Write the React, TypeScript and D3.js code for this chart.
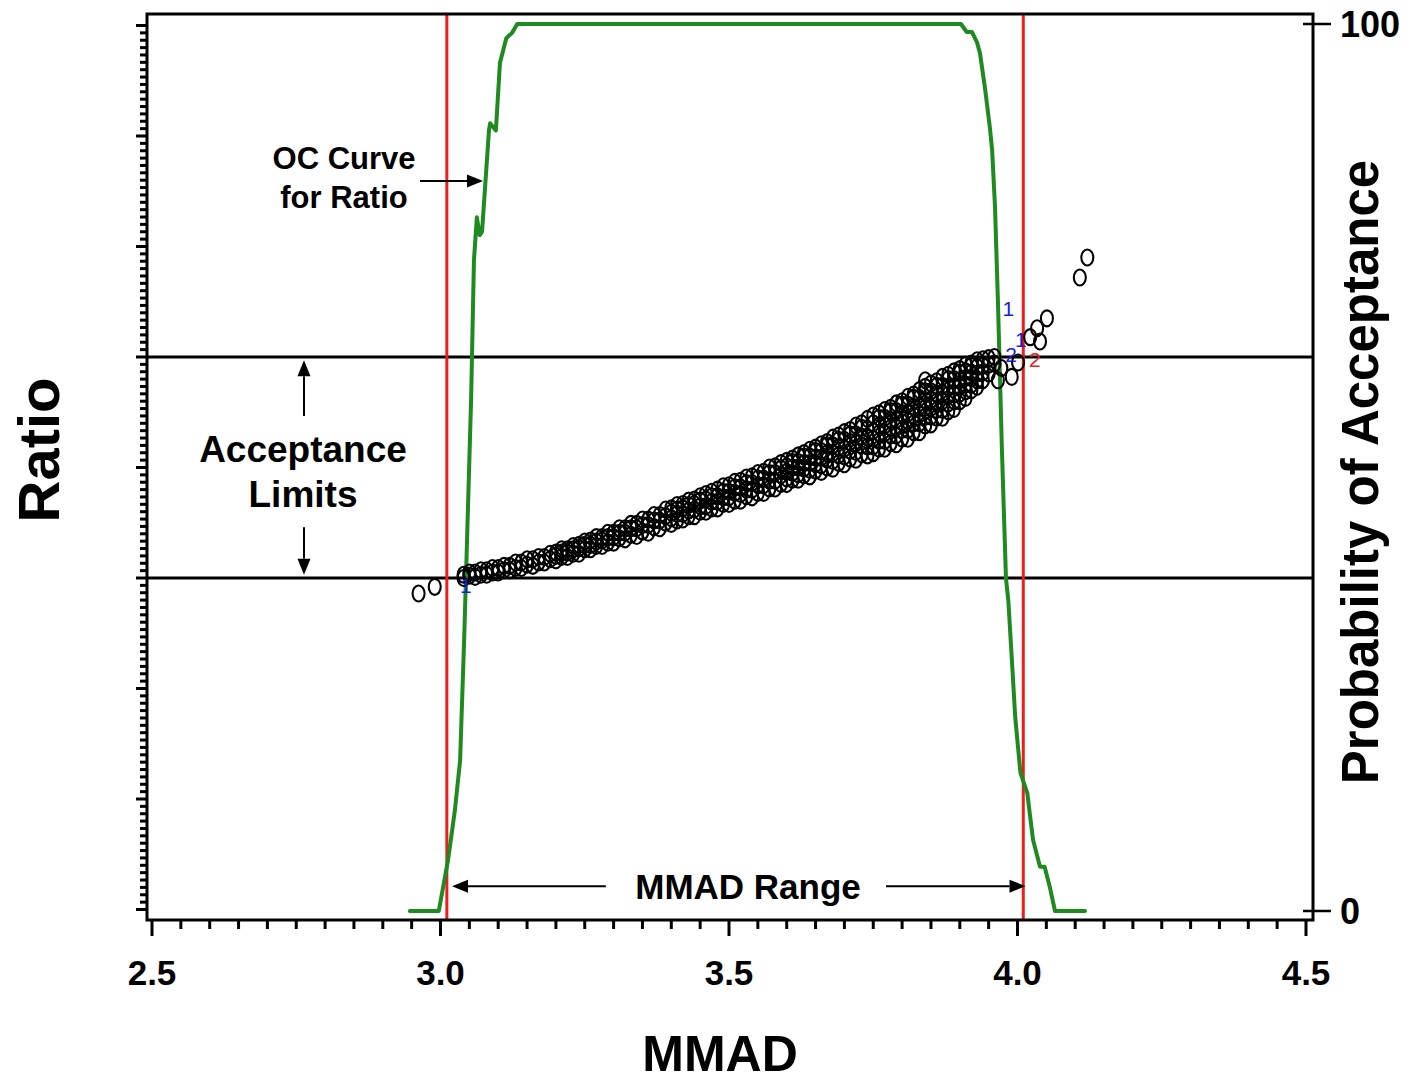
import React from "react";
import * as d3 from "d3";

const W = 1410;
const H = 1083;

// ---------- axes ----------
const xMajorTicks = [2.5, 3.0, 3.5, 4.0, 4.5];
const xTickLabels = ["2.5", "3.0", "3.5", "4.0", "4.5"];
const probTicks = [0, 100];
const probTickLabels = ["0", "100"];

// ---------- reference lines ----------
const acceptanceLimits = [0.8, 1.0];
const mmadRangeLimits = [3.011, 4.01];

// ---------- OC curve (probability of acceptance, %) ----------
const ocMMAD = [2.947, 2.997, 3.013, 3.025, 3.034, 3.041, 3.046, 3.053, 3.058, 3.063, 3.068, 3.072, 3.084, 3.086, 3.096, 3.103, 3.114, 3.124, 3.133, 3.902, 3.912, 3.921, 3.93, 3.935, 3.944, 3.952, 3.956, 3.961, 3.966, 3.973, 3.98, 3.984, 3.991, 3.996, 4.005, 4.017, 4.022, 4.027, 4.039, 4.047, 4.056, 4.065, 4.117];
const ocProb = [0, 0, 5.7, 11.4, 17.0, 30.6, 41.8, 57.6, 73.4, 78.2, 76.2, 76.6, 88.0, 88.8, 88.0, 95.6, 98.4, 99.0, 100, 100, 99.1, 99.1, 97.9, 96.7, 92.6, 88.4, 85.8, 79.4, 68.9, 52.0, 37.5, 35.1, 27.5, 21.9, 15.6, 13.3, 10.6, 8.0, 5.0, 5.0, 2.7, 0, 0];

// ---------- simulated observations: band of (MMAD, Ratio) ----------
const bandMMAD = [
  3.04, 3.05, 3.06, 3.07, 3.08, 3.09, 3.1, 3.11, 3.12, 3.13, 3.14, 3.15, 3.16, 3.17, 3.18, 3.19,
  3.2, 3.21, 3.22, 3.23, 3.24, 3.25, 3.26, 3.27, 3.28, 3.29, 3.3, 3.31, 3.32, 3.33, 3.34, 3.35, 3.36, 3.37, 3.38, 3.39,
  3.4, 3.41, 3.42, 3.43, 3.44, 3.45, 3.46, 3.47, 3.48, 3.49, 3.5, 3.51, 3.52, 3.53, 3.54, 3.55, 3.56, 3.57, 3.58, 3.59,
  3.6, 3.61, 3.62, 3.63, 3.64, 3.65, 3.66, 3.67, 3.68, 3.69, 3.7, 3.71, 3.72, 3.73, 3.74,
  3.75, 3.76, 3.77, 3.78, 3.79, 3.8, 3.81, 3.82, 3.83, 3.84, 3.85, 3.86, 3.87, 3.88, 3.89, 3.9, 3.91, 3.92,
  3.93, 3.94, 3.95, 3.96,
];
const bandRatio: number[][] = [
  [0.8, 0.803], [0.802, 0.805], [0.801, 0.805], [0.803, 0.807], [0.803, 0.807], [0.805, 0.809], [0.805, 0.809], [0.807, 0.811],
  [0.807, 0.811], [0.809, 0.814], [0.809, 0.814], [0.812, 0.817], [0.811, 0.817], [0.814, 0.819], [0.814, 0.819], [0.817, 0.822],
  [0.816, 0.82, 0.823], [0.819, 0.823, 0.826], [0.819, 0.823, 0.826], [0.822, 0.826, 0.829], [0.822, 0.827, 0.83],
  [0.826, 0.83, 0.833], [0.826, 0.83, 0.834], [0.829, 0.833, 0.837], [0.829, 0.834, 0.837], [0.832, 0.837, 0.841],
  [0.832, 0.837, 0.841], [0.836, 0.841, 0.845], [0.835, 0.841, 0.845], [0.839, 0.845, 0.849], [0.838, 0.845, 0.849],
  [0.842, 0.848, 0.853], [0.841, 0.848, 0.853], [0.846, 0.852, 0.857], [0.845, 0.852, 0.857], [0.85, 0.856, 0.862],
  [0.849, 0.854, 0.859, 0.863], [0.852, 0.858, 0.862, 0.866], [0.853, 0.858, 0.863, 0.867], [0.856, 0.861, 0.866, 0.87],
  [0.856, 0.862, 0.867, 0.871], [0.86, 0.865, 0.87, 0.874], [0.86, 0.865, 0.871, 0.876], [0.863, 0.869, 0.874, 0.878],
  [0.863, 0.869, 0.874, 0.88], [0.867, 0.873, 0.878, 0.883], [0.867, 0.873, 0.878, 0.884], [0.87, 0.877, 0.882, 0.887],
  [0.87, 0.876, 0.882, 0.888], [0.874, 0.88, 0.886, 0.891], [0.873, 0.88, 0.886, 0.892], [0.877, 0.884, 0.89, 0.895],
  [0.877, 0.884, 0.89, 0.896], [0.881, 0.888, 0.895, 0.9], [0.881, 0.888, 0.895, 0.901], [0.885, 0.893, 0.899, 0.904],
  [0.885, 0.89, 0.896, 0.901, 0.906], [0.889, 0.895, 0.9, 0.905, 0.908], [0.889, 0.894, 0.9, 0.905, 0.911],
  [0.893, 0.899, 0.904, 0.91, 0.913], [0.892, 0.898, 0.904, 0.91, 0.916], [0.897, 0.903, 0.909, 0.915, 0.918],
  [0.896, 0.902, 0.909, 0.915, 0.921], [0.9, 0.907, 0.913, 0.92, 0.923], [0.899, 0.906, 0.913, 0.92, 0.927],
  [0.904, 0.911, 0.918, 0.925, 0.929], [0.903, 0.91, 0.917, 0.925, 0.932], [0.908, 0.915, 0.923, 0.93, 0.934],
  [0.907, 0.914, 0.922, 0.93, 0.938], [0.912, 0.92, 0.928, 0.936, 0.94], [0.911, 0.919, 0.927, 0.935, 0.944],
  [0.913, 0.919, 0.926, 0.933, 0.94, 0.947], [0.917, 0.924, 0.931, 0.938, 0.945, 0.949],
  [0.917, 0.924, 0.931, 0.938, 0.945, 0.952], [0.922, 0.929, 0.936, 0.943, 0.951, 0.954],
  [0.921, 0.929, 0.936, 0.943, 0.951, 0.958], [0.926, 0.934, 0.941, 0.949, 0.957, 0.96],
  [0.926, 0.934, 0.942, 0.949, 0.957, 0.964], [0.932, 0.94, 0.947, 0.955, 0.963, 0.966],
  [0.932, 0.94, 0.948, 0.955, 0.963, 0.97], [0.938, 0.946, 0.954, 0.961, 0.969, 0.973],
  [0.939, 0.946, 0.954, 0.961, 0.969, 0.976], [0.945, 0.952, 0.96, 0.967, 0.974, 0.978],
  [0.945, 0.952, 0.96, 0.967, 0.974, 0.982], [0.951, 0.958, 0.966, 0.973, 0.98, 0.984],
  [0.953, 0.96, 0.966, 0.973, 0.98, 0.987], [0.96, 0.967, 0.973, 0.979, 0.986, 0.989],
  [0.963, 0.969, 0.975, 0.981, 0.987, 0.993], [0.97, 0.975, 0.981, 0.986, 0.992, 0.994],
  [0.973, 0.979, 0.985, 0.991, 0.997], [0.979, 0.986, 0.992, 0.998], [0.985, 0.993, 0.999], [0.994, 1.0],
];

// isolated observations outside the main band
const outlierMMAD = [2.962, 2.99, 3.84, 3.966, 3.972, 3.99, 4.001, 4.022, 4.034, 4.039, 4.051, 4.108, 4.121];
const outlierRatio = [0.786, 0.792, 0.979, 0.979, 0.99, 0.982, 0.995, 1.018, 1.026, 1.014, 1.035, 1.072, 1.09];

// small coloured run markers
const markerText = ["1", "1", "2", "2", "1"];
const markerColor = ["#1c1cd8", "#1c1cd8", "#1c1cd8", "#e82020", "#1c1cd8"];
const markerMMAD = [3.984, 4.006, 3.989, 4.03, 3.044];
const markerRatio = [1.043, 1.015, 1.002, 0.997, 0.793];

// ---------- layout ----------
const plotLeft = 147;
const plotRight = 1313;
const plotTop = 14;
const plotBottom = 920;

const FONT = "'Liberation Sans', Arial, Helvetica, sans-serif";

function Arrow({ x1, y1, x2, y2 }: { x1: number; y1: number; x2: number; y2: number }) {
  const ang = Math.atan2(y2 - y1, x2 - x1);
  const L = 16;
  const Wd = 6.5;
  const bx = x2 - L * Math.cos(ang);
  const by = y2 - L * Math.sin(ang);
  const px = -Math.sin(ang) * Wd;
  const py = Math.cos(ang) * Wd;
  return (
    <g>
      <line x1={x1} y1={y1} x2={bx} y2={by} stroke="#000" strokeWidth={2} />
      <polygon points={`${x2},${y2} ${bx + px},${by + py} ${bx - px},${by - py}`} fill="#000" />
    </g>
  );
}

export default function App() {
  const x = d3.scaleLinear().domain([2.5, 4.5]).range([152, 1306]);
  const yR = d3.scaleLinear().domain([0.8, 1.0]).range([578, 357]);
  const yP = d3.scaleLinear().domain([0, 100]).range([911, 24]);

  const xMinor = d3.range(0, 41).map((i) => 2.5 + i * 0.05);
  const ratioMinor = d3.range(0, 121).map((i) => 0.5 + (i * 0.1) / 15);

  const ocLine = d3
    .line<number>()
    .x((_, i) => x(ocMMAD[i]))
    .y((_, i) => yP(ocProb[i]))(ocMMAD);

  const points: [number, number][] = [];
  bandMMAD.forEach((m, i) => bandRatio[i].forEach((r) => points.push([m, r])));
  outlierMMAD.forEach((m, i) => points.push([m, outlierRatio[i]]));

  return (
    <svg
      width={W}
      height={H}
      style={{ position: "absolute", left: 0, top: 0, background: "#fff" }}
      fontFamily={FONT}
    >
      <rect x={0} y={0} width={W} height={H} fill="#fff" />

      {/* acceptance limits */}
      {acceptanceLimits.map((v) => (
        <line key={"a" + v} x1={plotLeft} x2={plotRight} y1={yR(v)} y2={yR(v)} stroke="#000" strokeWidth={3} />
      ))}

      {/* MMAD range limits */}
      {mmadRangeLimits.map((v) => (
        <line key={"m" + v} x1={x(v)} x2={x(v)} y1={plotTop} y2={plotBottom} stroke="#ee1c1c" strokeWidth={3} />
      ))}

      {/* OC curve */}
      <path d={ocLine || ""} fill="none" stroke="#1f8a1f" strokeWidth={4} strokeLinejoin="round" strokeLinecap="round" />

      {/* observations */}
      <g fill="none" stroke="#000" strokeWidth={2.1}>
        {points.map(([m, r], i) => (
          <ellipse key={i} cx={x(m)} cy={yR(r)} rx={6} ry={8} />
        ))}
      </g>

      {/* coloured markers */}
      {markerText.map((t, i) => (
        <text key={"mk" + i} x={x(markerMMAD[i])} y={yR(markerRatio[i]) + 7} fontSize={21} fill={markerColor[i]} textAnchor="middle">
          {t}
        </text>
      ))}

      {/* frame */}
      <path
        d={`M${plotLeft},${plotBottom} L${plotLeft},${plotTop} L${plotRight},${plotTop} L${plotRight},${plotBottom} Z`}
        fill="none"
        stroke="#000"
        strokeWidth={3}
      />

      {/* left ticks */}
      {ratioMinor.map((v, i) => {
        const major = i % 15 === 0;
        const yy = yR(v);
        if (yy < plotTop + 2 || yy > plotBottom - 2) return null;
        return (
          <line key={"lt" + i} x1={plotLeft - (major ? 11 : 7)} x2={plotLeft} y1={yy} y2={yy} stroke="#000" strokeWidth={3} />
        );
      })}

      {/* bottom ticks */}
      {xMinor.map((v, i) => {
        const major = i % 10 === 0;
        return (
          <line key={"bt" + i} x1={x(v)} x2={x(v)} y1={plotBottom} y2={plotBottom + (major ? 16 : 9)} stroke="#000" strokeWidth={3} />
        );
      })}
      {xMajorTicks.map((v, i) => (
        <text key={"bl" + v} x={x(v)} y={985} fontSize={35} fontWeight="bold" textAnchor="middle">
          {xTickLabels[i]}
        </text>
      ))}

      {/* right ticks */}
      {probTicks.map((v, i) => (
        <g key={"rt" + v}>
          <line x1={plotRight - 10} x2={plotRight + 18} y1={yP(v)} y2={yP(v)} stroke="#000" strokeWidth={2.5} />
          <text x={plotRight + 27} y={yP(v) + 13} fontSize={36} fontWeight="bold">
            {probTickLabels[i]}
          </text>
        </g>
      ))}

      {/* axis titles */}
      <text x={720} y={1071} fontSize={50} fontWeight="bold" textAnchor="middle">
        MMAD
      </text>
      <text transform="translate(59,450) rotate(-90)" fontSize={58} fontWeight="bold" textAnchor="middle">
        Ratio
      </text>
      <text transform="translate(1378,472) rotate(-90)" fontSize={51} fontWeight="bold" textAnchor="middle">
        Probability of Acceptance
      </text>

      {/* annotations */}
      <text x={x(2.8328)} y={yP(83.65)} fontSize={31} fontWeight="bold" textAnchor="middle">
        OC Curve
      </text>
      <text x={x(2.8328)} y={yP(79.26)} fontSize={31} fontWeight="bold" textAnchor="middle">
        for Ratio
      </text>
      <Arrow x1={x(2.9645)} y1={yP(82.3)} x2={x(3.0737)} y2={yP(82.3)} />

      <text x={x(2.7617)} y={yR(0.905)} fontSize={37} fontWeight="bold" textAnchor="middle">
        Acceptance
      </text>
      <text x={x(2.7617)} y={yR(0.8643)} fontSize={37} fontWeight="bold" textAnchor="middle">
        Limits
      </text>
      <Arrow x1={x(2.7634)} y1={yR(0.9466)} x2={x(2.7634)} y2={yR(0.997)} />
      <Arrow x1={x(2.7634)} y1={yR(0.846)} x2={x(2.7634)} y2={yR(0.803)} />

      <text x={x(3.533)} y={yP(1.35)} fontSize={35} fontWeight="bold" textAnchor="middle">
        MMAD Range
      </text>
      <Arrow x1={x(3.2866)} y1={yP(2.8)} x2={x(3.0199)} y2={yP(2.8)} />
      <Arrow x1={x(3.7721)} y1={yP(2.8)} x2={x(4.0139)} y2={yP(2.8)} />
    </svg>
  );
}
